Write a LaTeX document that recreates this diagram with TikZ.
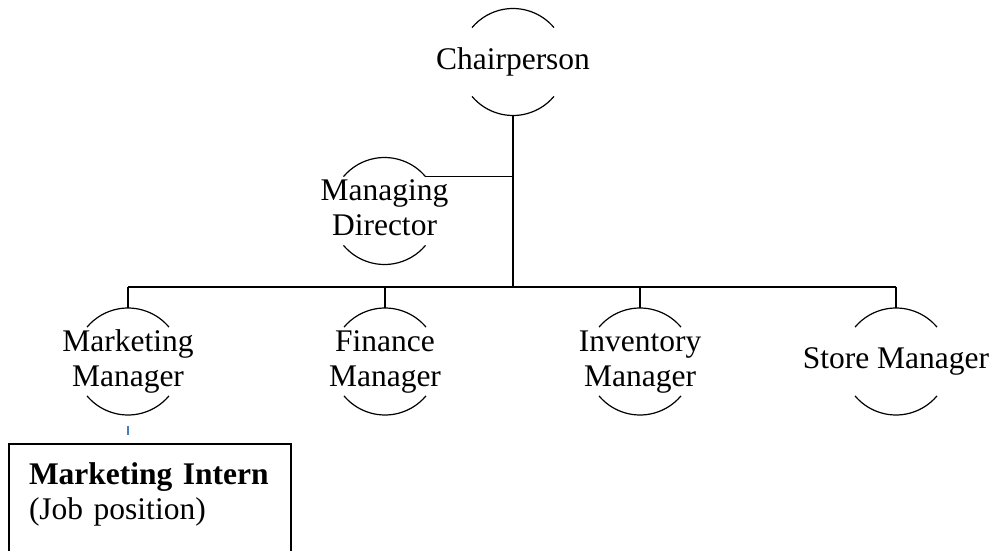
\documentclass[tikz,border=0pt]{standalone}
\usepackage{fontspec}
\setmainfont{Liberation Serif}
\usetikzlibrary{calc}
\definecolor{tickblue}{RGB}{74,126,187}
\tikzstyle{role}=[shape=circle, inner sep=0pt, outer sep=0pt, minimum size=107pt, font=\fontsize{31.5}{35}\selectfont]
\tikzstyle{rim}=[line width=1.2pt]
\tikzstyle{trunk}=[line width=2pt]
\tikzstyle{branch}=[line width=1.3pt]
\tikzstyle{post}=[draw, line width=1.8pt, shape=rectangle, anchor=north west, outer sep=0pt, align=left, text width=242pt, inner xsep=20pt, inner ysep=19pt, text depth=80pt, font=\fontsize{31.5}{35}\selectfont]
\tikzstyle{tickmark}=[draw=tickblue, line width=1.2pt]
\newcommand{\onename}[1]{\makebox[0pt]{#1}}
\newcommand{\twonames}[2]{\makebox[0pt]{\begin{tabular}{@{}c@{}}#1\\#2\end{tabular}}}

\begin{document}
\begin{tikzpicture}[x=1pt, y=1pt]
\useasboundingbox (0,0) rectangle (995,550);
\clip (0,0) rectangle (995,550);
% the top two posts
\node[role] (chair) at (513,488) {\onename{Chairperson}};
\node[role] (md) at (384.5,339) {\twonames{Managing}{Director}};
% the four managers
\node[role] (mkt) at (128,188.5) {\twonames{Marketing}{Manager}};
\node[role] (fin) at (385,188.5) {\twonames{Finance}{Manager}};
\node[role] (inv) at (640,188.5) {\twonames{Inventory}{Manager}};
\node[role] (store) at (896,188.5) {\onename{Store Manager}};
% the job position
\node[post] (intern) at (9,106) {\textbf{Marketing Intern}\\(Job position)};
% the half circles
\foreach \r in {chair,md,mkt,fin,inv,store}
  \draw[rim] (\r.40) arc[start angle=40, end angle=140, radius=53.5pt]
             (\r.220) arc[start angle=220, end angle=320, radius=53.5pt];
% the lines
\coordinate (hub) at (513,263.3);
\draw[trunk] (chair.south) -- (hub);
\draw[trunk] (mkt.north |- hub) -- (store.north |- hub);
\foreach \r in {mkt,fin,inv,store}
  \draw[branch] (\r.north |- hub) -- (\r.north);
\draw[branch] (md.40) -- (md.40 -| hub);
\draw[tickmark, shorten <=11pt, shorten >=9pt] (mkt.south) -- (mkt.south |- intern.north);
\end{tikzpicture}
\end{document}
